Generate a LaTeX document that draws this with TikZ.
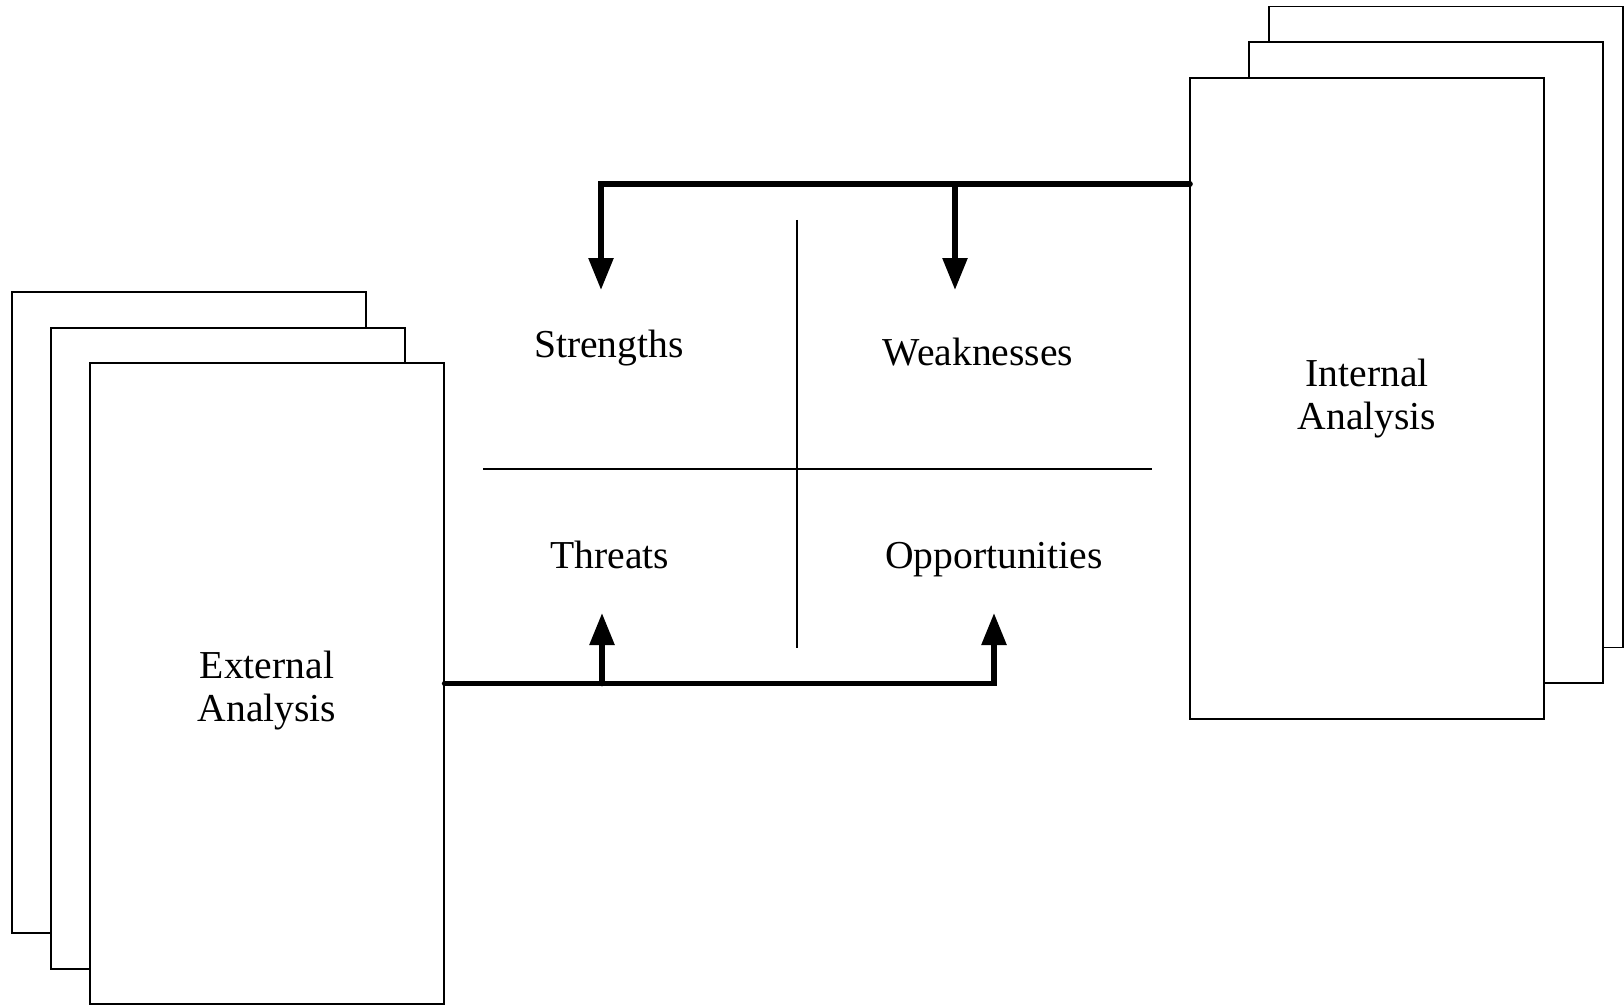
\documentclass[tikz,border=0pt]{standalone}
\usepackage{fontspec}
\setmainfont{Liberation Serif}
\usetikzlibrary{arrows.meta, positioning, calc}

\begin{document}
\begin{tikzpicture}[
    x=0.5pt, y=-0.5pt,
    page/.style={draw, line width=0.6pt, fill=white, minimum width=177pt, minimum height=320.5pt, inner sep=0pt, font=\fontsize{19.8}{21.5}\selectfont, align=center},
    quad/.style={font=\fontsize{19.8}{21.5}\selectfont, align=center, anchor=base},
    cross/.style={line width=0.6pt},
    bus/.style={line width=2.8pt, line cap=round},
    arrow/.style={bus, -{Triangle[width=12pt, length=16pt]}}
]
    \useasboundingbox (0,0) rectangle (1624,1006);

    % External analysis (stack of pages)
    \node[page] (extback) at (189,612.5) {};
    \node[page] (extmid) at (228,648.5) {};
    \node[page, text depth=0pt] (ext) at (267,683.5) {\raisebox{-3pt}{External}\\\raisebox{-3pt}{Analysis}};

    % Internal analysis (stack of pages)
    \node[page] (intback) at (1446,327) {};
    \node[page] (intmid) at (1426,362.5) {};
    \node[page] (int) at (1367,398.5) {\raisebox{-3pt}{Internal}\\\raisebox{-3pt}{Analysis}};

    % SWOT cross
    \draw[cross] (797,220) -- (797,648);
    \draw[cross] (483,469) -- (1152,469);

    \node[quad] (str) at (609,357) {Strengths};
    \node[quad] (weak) at (978,365) {Weaknesses};
    \node[quad] (thr) at (610,568) {Threats};
    \node[quad] (opp) at (994,568) {Opportunities};

    % arrow ends
    \coordinate (intout) at (1190,184);
    \coordinate (strtip) at (601,290);
    \coordinate (weaktip) at (955,290);
    \coordinate (thrtip) at (602,613);
    \coordinate (opptip) at (994,613);

    % Internal -> Strengths / Weaknesses
    \draw[arrow] (intout) -| (strtip);
    \draw[arrow] (intout -| weaktip) -- (weaktip);

    % External -> Threats / Opportunities
    \draw[arrow] (ext.east) -| (opptip);
    \draw[arrow] (ext.east -| thrtip) -- (thrtip);

\end{tikzpicture}
\end{document}
